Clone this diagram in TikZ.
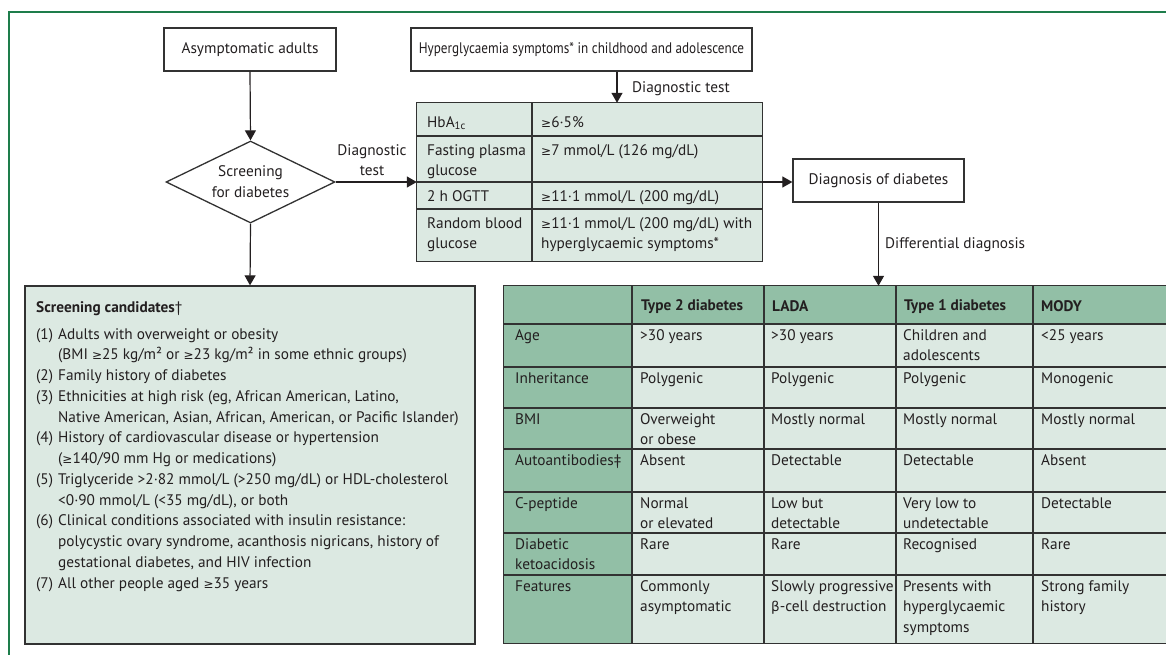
\documentclass[tikz,border=0pt]{standalone}
\usepackage{fontspec}
\usepackage{graphicx}
\setmainfont{PT Sans}
\newfontfamily\grk{DejaVu Sans}
\usetikzlibrary{shapes.geometric,arrows.meta}
\definecolor{frameg}{RGB}{30,125,75}
\definecolor{lightg}{RGB}{220,233,226}
\definecolor{darkg}{RGB}{146,191,166}
\definecolor{ink}{RGB}{35,31,32}
\definecolor{rulec}{RGB}{50,50,50}
\newcommand{\ml}[1]{\begin{tabular}[t]{@{}l@{}}#1\end{tabular}}
\newcommand{\mc}[1]{\begin{tabular}[t]{@{}c@{}}#1\end{tabular}}
\newcommand{\tfont}{\fontsize{15.3}{20.75}\selectfont}
\newcommand{\nb}[1]{\makebox[22pt][l]{#1}}
\newcommand{\gq}{{\grk\fontsize{12}{20.75}\selectfont ≥}}
\newcommand{\bt}{{\grk\fontsize{13.5}{20.75}\selectfont β}}
\begin{document}
\begin{tikzpicture}[x=1pt,y=-1pt,
  box/.style={draw=rulec,line width=1.3pt,fill=white,inner sep=0pt,text=ink,font=\tfont,align=center},
  conn/.style={draw=ink,line width=1.2pt,-{Triangle[width=11pt,length=10pt]}},
  txt/.style={inner sep=0pt,anchor=base west,text=ink,font=\tfont},
  gridline/.style={draw=rulec,line width=1.2pt}]
\useasboundingbox (0,0) rectangle (1166,654);
\clip (0,0) rectangle (1166,654);
% frame
\draw[frameg,line width=1.2pt] (9,660) -- (9,12) -- (1170,12);

% boxes
\node[box,minimum width=172pt,minimum height=43pt] (asym) at (250,49.5) {Asymptomatic adults};
\node[box,diamond,minimum width=169pt,minimum height=82pt,aspect=2] (screen) at (250.5,182) {};
\node[inner sep=0pt,text=ink,font=\tfont,align=center] (screentxt) at (screen.center) {Screening\\for diabetes};
\node[box,fill=lightg,minimum width=450pt,minimum height=358pt] (cand) at (250,465) {};
\node[box,minimum width=341pt,minimum height=43pt] (hyper) at (581.5,49.5) {\scalebox{0.86}[1]{Hyperglycaemia symptoms* in childhood and adolescence}};
\node[box,minimum width=171pt,minimum height=43pt] (diag) at (878.5,180.5) {Diagnosis of diabetes};

% diagnostic table
\node[inner sep=0pt,fill=lightg,minimum width=345pt,minimum height=158pt] (dtab) at (589.5,182) {};
\foreach \y in {136,182,209} \draw[gridline] (417,\y) -- (762,\y);
\draw[gridline] (532,103) -- (532,261);
\draw[gridline] (dtab.north west) rectangle (dtab.south east);
\node[txt] (d11) at (427,127) {HbA\textsubscript{1c}};
\node[txt] (d12) at (541,127) {\gq6·5\%};
\node[txt] (d21) at (427,155) {\ml{Fasting plasma\\glucose}};
\node[txt] (d22) at (541,155) {\gq7 mmol/L (126 mg/dL)};
\node[txt] (d31) at (427,201) {2 h OGTT};
\node[txt] (d32) at (541,201) {\gq11·1 mmol/L (200 mg/dL)};
\node[txt] (d41) at (427,228) {\ml{Random blood\\glucose}};
\node[txt] (d42) at (541,228) {\ml{\gq11·1 mmol/L (200 mg/dL) with\\hyperglycaemic symptoms*}};

% comparison table
\node[inner sep=0pt,fill=lightg,minimum width=676pt,minimum height=357pt] (ctab) at (842,464.5) {};
\fill[darkg] (504,286) rectangle (1180,324);
\fill[darkg] (504,324) rectangle (632,643);
\foreach \y in {324,367,408,449,492,533,575} \draw[gridline] (504,\y) -- (1180,\y);
\foreach \x in {632,764,896,1033} \draw[gridline] (\x,286) -- (\x,643);
\draw[gridline] (ctab.north west) rectangle (ctab.south east);

\node[txt,font=\tfont\bfseries] (h2) at (641,310) {Type 2 diabetes};
\node[txt,font=\tfont\bfseries] (h3) at (772,311) {LADA};
\node[txt,font=\tfont\bfseries] (h4) at (904,310) {Type 1 diabetes};
\node[txt,font=\tfont\bfseries] (h5) at (1041,311) {MODY};

\node[txt] (r11) at (515,340) {Age};
\node[txt] (r12) at (640,340) {>30 years};
\node[txt] (r13) at (771,340) {>30 years};
\node[txt] (r14) at (903,340) {\ml{Children and\\adolescents}};
\node[txt] (r15) at (1041,340) {<25 years};

\node[txt] (r21) at (515,383) {Inheritance};
\node[txt] (r22) at (640,383) {Polygenic};
\node[txt] (r23) at (771,383) {Polygenic};
\node[txt] (r24) at (903,383) {Polygenic};
\node[txt] (r25) at (1041,383) {Monogenic};

\node[txt] (r31) at (515,424) {BMI};
\node[txt] (r32) at (640,424) {\ml{Overweight\\or obese}};
\node[txt] (r33) at (771,424) {Mostly normal};
\node[txt] (r34) at (903,424) {Mostly normal};
\node[txt] (r35) at (1041,424) {Mostly normal};

\node[txt] (r41) at (515,465) {Autoantibodies‡};
\node[txt] (r42) at (640,465) {Absent};
\node[txt] (r43) at (771,465) {Detectable};
\node[txt] (r44) at (903,465) {Detectable};
\node[txt] (r45) at (1041,465) {Absent};

\node[txt] (r51) at (515,508) {C-peptide};
\node[txt] (r52) at (640,508) {\ml{Normal\\or elevated}};
\node[txt] (r53) at (771,508) {\ml{Low but\\detectable}};
\node[txt] (r54) at (903,508) {\ml{Very low to\\undetectable}};
\node[txt] (r55) at (1041,508) {Detectable};

\node[txt] (r61) at (515,549) {\ml{Diabetic\\ketoacidosis}};
\node[txt] (r62) at (640,549) {Rare};
\node[txt] (r63) at (771,549) {Rare};
\node[txt] (r64) at (903,549) {Recognised};
\node[txt] (r65) at (1041,549) {Rare};

\node[txt] (r71) at (515,591) {Features};
\node[txt] (r72) at (640,591) {\ml{Commonly\\asymptomatic}};
\node[txt] (r73) at (771,591) {\ml{Slowly progressive\\\bt-cell destruction}};
\node[txt] (r74) at (903,591) {\ml{Presents with\\hyperglycaemic\\symptoms}};
\node[txt] (r75) at (1041,591) {\ml{Strong family\\history}};

% screening candidates text
\node[txt,font=\tfont\bfseries] (candtitle) at (36,312) {Screening candidates\mdseries†};
\node[txt] (candlist) at (36,339) {\begin{tabular}[t]{@{}l@{}l@{}}
\nb{(1)} & Adults with overweight or obesity\\
 & (BMI \gq25 kg/m² or \gq23 kg/m² in some ethnic groups)\\
\nb{(2)} & Family history of diabetes\\
\nb{(3)} & Ethnicities at high risk (eg, African American, Latino,\\
 & Native American, Asian, African, American, or Pacific Islander)\\
\nb{(4)} & History of cardiovascular disease or hypertension\\
 & (\gq140/90 mm Hg or medications)\\
\nb{(5)} & Triglyceride >2·82 mmol/L (>250 mg/dL) or HDL-cholesterol\\
 & <0·90 mmol/L (<35 mg/dL), or both\\
\nb{(6)} & Clinical conditions associated with insulin resistance:\\
 & polycystic ovary syndrome, acanthosis nigricans, history of\\
 & gestational diabetes, and HIV infection\\
\nb{(7)} & All other people aged \gq35 years
\end{tabular}};

% connectors
\coordinate (hx) at (617,0);
\draw[conn] (asym.south) -- (screen.north);
\draw[conn] (screen.south) -- (cand.north);
\draw[conn] (screen.east) -- (dtab.west);
\draw[conn] (hyper.south -| hx) -- (dtab.north -| hx);
\draw[conn] (dtab.east) -- (dtab.east -| diag.west);
\draw[conn] (diag.south) -- (diag.south |- ctab.north);

% connector labels
\node[txt,anchor=base] (lbl1) at (372,155) {\mc{Diagnostic\\test}};
\node[txt] (lbl2) at (632,92) {Diagnostic test};
\node[txt] (lbl3) at (885,248) {Differential diagnosis};
\end{tikzpicture}
\end{document}
